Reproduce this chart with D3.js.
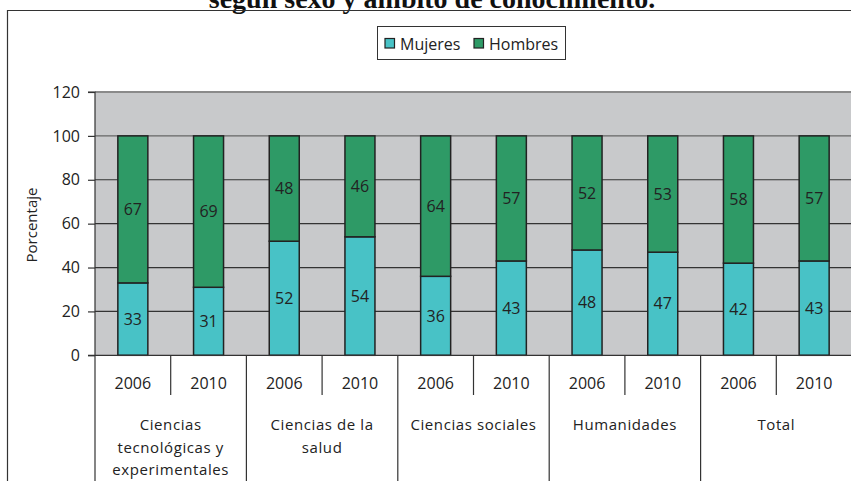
<!DOCTYPE html>
<html><head><meta charset="utf-8">
<script src="https://cdn.jsdelivr.net/npm/d3@7"></script>
<style>body{margin:0;background:#fff;}svg{display:block;}</style>
</head><body>
<svg id="c" width="851" height="481"></svg>
<script>
const categories = ["Ciencias tecnológicas y experimentales","Ciencias de la salud","Ciencias sociales","Humanidades","Total"];
const categoryLines = [["Ciencias","tecnológicas y","experimentales"],["Ciencias de la","salud"],["Ciencias sociales"],["Humanidades"],["Total"]];
const years = ["2006","2010"];
const mujeres = [33,31,52,54,36,43,48,47,42,43];
const hombres = [67,69,48,46,64,57,52,53,58,57];
const seriesNames = ["Mujeres","Hombres"];
const yTicks = [0,20,40,60,80,100,120];
const colors = ["#48C2C6","#2E9A66"];

const svg = d3.select("#c");
const font = "'Open Sans', sans-serif";
const textCol = "#222";

// title (cut at top, as in the reference)
svg.append("text").attr("x",432).attr("y",8).attr("text-anchor","middle")
  .attr("font-family","'Liberation Serif', serif").attr("font-weight","bold").attr("font-size",28)
  .attr("fill","#111").text("según sexo y ámbito de conocimiento.");

// outer border
svg.append("path").attr("d","M7.5,481 V10.5 H851").attr("fill","none").attr("stroke","#333").attr("stroke-width",1.2);

const L=95, T=92, B=355.3, W=757;
const keys = [];
categories.forEach((c,i)=>years.forEach(y=>keys.push(i+"_"+y)));
const x = d3.scaleBand().domain(keys).range([L,L+W]).paddingInner(0).paddingOuter(0);
const y = d3.scaleLinear().domain([0,120]).range([B,T]);
const bw = 30;

// plot background
svg.append("rect").attr("x",L).attr("y",T).attr("width",W).attr("height",B-T).attr("fill","#C8C9CB");
// gridlines
svg.append("g").selectAll("line").data(yTicks.filter(t=>t>0)).join("line")
  .attr("x1",L).attr("x2",L+W).attr("y1",d=>y(d)).attr("y2",d=>y(d))
  .attr("stroke",d=>d===120?"#8a8a8a":(d===100?"#666":"#333")).attr("stroke-width",d=>d===120?2:1.2);

// bars
const stackData = keys.map((k,i)=>({key:k,Mujeres:mujeres[i],Hombres:hombres[i]}));
const stack = d3.stack().keys(seriesNames)(stackData);
stack.forEach((s,si)=>{
  const g = svg.append("g");
  g.selectAll("rect").data(s).join("rect")
    .attr("x",d=>x(d.data.key)+(x.bandwidth()-bw)/2).attr("width",bw)
    .attr("y",d=>y(d[1])).attr("height",d=>y(d[0])-y(d[1]))
    .attr("fill",colors[si]).attr("stroke","#222").attr("stroke-width",1.5);
  g.selectAll("text").data(s).join("text")
    .attr("x",d=>x(d.data.key)+x.bandwidth()/2).attr("y",d=>(y(d[0])+y(d[1]))/2)
    .attr("dy","0.36em").attr("text-anchor","middle").attr("font-family",font).attr("font-size",16)
    .attr("fill",textCol).text(d=>d[1]-d[0]);
});

// y axis
const yAxis = svg.append("g").attr("transform",`translate(${L},0)`)
  .call(d3.axisLeft(y).tickValues(yTicks).tickSize(7).tickPadding(8));
yAxis.select(".domain").attr("stroke","#333").attr("stroke-width",1.2).attr("d",`M-7,${B}H0V${T}H-7`);
yAxis.selectAll(".tick line").attr("stroke","#333").attr("stroke-width",1.2);
yAxis.selectAll("text").attr("font-family",font).attr("font-size",16).attr("fill",textCol);

svg.append("text").attr("transform",`translate(37,225) rotate(-90)`).attr("text-anchor","middle")
  .attr("font-family",font).attr("font-size",15).attr("fill",textCol).text("Porcentaje");

// x axis: baseline
svg.append("line").attr("x1",L).attr("x2",L+W).attr("y1",B).attr("y2",B).attr("stroke","#333").attr("stroke-width",1.2);
const xa = svg.append("g");
categories.forEach((c,i)=>{
  const k0 = i+"_"+years[0], k1 = i+"_"+years[1];
  const xl = x(k0), xm = x(k1), xr = x(k1)+x.bandwidth();
  xa.append("line").attr("x1",xm).attr("x2",xm).attr("y1",B).attr("y2",395).attr("stroke","#333").attr("stroke-width",1.2);
  xa.append("line").attr("x1",xl).attr("x2",xl).attr("y1",B).attr("y2",481).attr("stroke","#333").attr("stroke-width",1.2);
  years.forEach(yr=>{
    const k=i+"_"+yr;
    xa.append("text").attr("x",x(k)+x.bandwidth()/2).attr("y",383).attr("dy","0.36em").attr("text-anchor","middle")
      .attr("font-family",font).attr("font-size",16).attr("fill",textCol).text(yr);
  });
  categoryLines[i].forEach((ln,j)=>{
    xa.append("text").attr("x",(xl+xr)/2).attr("y",425+j*22.5).attr("dy","0.36em").attr("text-anchor","middle")
      .attr("font-family",font).attr("font-size",15).attr("letter-spacing",0.6).attr("fill",textCol).text(ln);
  });
});

// legend
const lg = svg.append("g");
lg.append("rect").attr("x",377.5).attr("y",26.5).attr("width",188).attr("height",33).attr("fill","#fff").attr("stroke","#333").attr("stroke-width",1);
const legX = [385,474];
seriesNames.forEach((n,i)=>{
  lg.append("rect").attr("x",legX[i]).attr("y",38.5).attr("width",9.5).attr("height",9.5).attr("fill",colors[i]).attr("stroke","#222").attr("stroke-width",1.2);
  lg.append("text").attr("x",legX[i]+15).attr("y",44).attr("dy","0.36em").attr("font-family",font).attr("font-size",16)
    .attr("fill",textCol).text(n);
});
</script>
</body></html>
